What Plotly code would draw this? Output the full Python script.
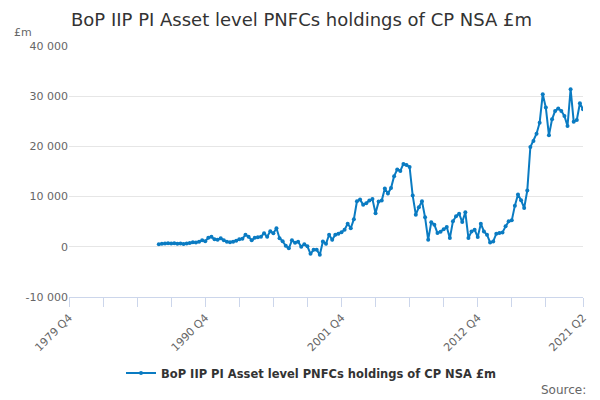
import plotly.graph_objects as go

# Quarterly values, £m, 1987 Q1 to 2021 Q2
valores = [
    530, 600, 650, 700, 650, 700, 600, 650, 550, 650,
    750, 900, 850, 1000, 1300, 1100, 1800, 2000, 1500, 1400,
    1700, 1300, 1000, 900, 1000, 1200, 1500, 1600, 2400, 2000,
    1300, 1800, 1900, 2000, 2700, 2000, 3100, 2700, 3700, 1700,
    1100, 200, -300, 1300, 800, 1000, 0, 500, 100, -1400,
    -600, -600, -1600, 1070, 600, 2400, 1400, 2400, 2600, 2900,
    3400, 4600, 3700, 5500, 9070, 9400, 8400, 8700, 9200, 9500,
    6700, 9000, 9200, 11600, 10600, 11700, 14070, 15400, 15100, 16500,
    16300, 15900, 10200, 6400, 7900, 9070, 5870, 1400, 4870, 4400,
    2740, 3000, 3500, 3930, 1730, 5070, 6100, 6600, 4930, 6870,
    1730, 3070, 3400, 1930, 4600, 3070, 2400, 870, 1070, 2600,
    2730, 2870, 4070, 5070, 5270, 8200, 10400, 9270, 7730, 11200,
    19870, 21070, 22530, 24730, 30400, 27730, 22200, 25400, 27070, 27530,
    27070, 26070, 24070, 31400, 24930, 25270, 28600, 27400,
]

# axis runs from 1979 Q4; the series starts in 1987 Q1
trimestres = ["1979 Q4"] + [f"{a} Q{q}" for a in range(1980, 2022) for q in range(1, 5)]
trimestres = trimestres[:trimestres.index("2021 Q2") + 1]
inicio = trimestres.index("1987 Q1")
serie = [None] * inicio + valores

rotulos = ["1979 Q4", "1990 Q4", "2001 Q4", "2012 Q4", "2021 Q2"]
marcas = trimestres[0:155:11] + ["2021 Q2"]
texto_marcas = [t if t in rotulos else "" for t in marcas]

y_vals = [-10000, 0, 10000, 20000, 30000, 40000]
y_text = ["-10 000", "0", "10 000", "20 000", "30 000", "40 000"]

nome = "BoP IIP PI Asset level PNFCs holdings of CP NSA £m"
azul = "#0a7bc2"

fig = go.Figure()
fig.add_trace(go.Scatter(
    x=trimestres, y=serie, name=nome, mode="lines+markers",
    line=dict(color=azul, width=2),
    marker=dict(color=azul, size=4),
    connectgaps=False,
))

# the page body adds an 8px margin, so the figure is 8px smaller on each side
fig.update_layout(
    width=592, height=392,
    margin=dict(l=61, r=17, t=38, b=103),
    plot_bgcolor="white", paper_bgcolor="white",
    font=dict(family="DejaVu Sans", color="#666666", size=11),
    title=dict(text=nome, x=63 / 592, xanchor="left", y=1 - 12 / 392, yanchor="middle",
               font=dict(size=18, color="#333333")),
    showlegend=True,
    legend=dict(orientation="h", x=0.5 - 15 / 514, xanchor="center", y=-76 / 251, yanchor="middle",
                font=dict(size=11.5, color="#333333", weight="bold")),
    xaxis=dict(
        type="category", categoryorder="array", categoryarray=trimestres,
        range=[0, len(trimestres) - 1], automargin=False,
        tickmode="array", tickvals=marcas, ticktext=texto_marcas,
        tickangle=-45, ticks="outside", ticklen=9, tickcolor="#ccd6eb",
        showline=True, linecolor="#ccd6eb", showgrid=False, zeroline=False,
        tickfont=dict(size=11, color="#666666"),
    ),
    yaxis=dict(
        range=[-10000, 40000], tickmode="array", tickvals=y_vals, ticktext=y_text,
        showgrid=True, gridcolor="#e6e6e6", zeroline=False, showline=False,
        ticks="", automargin=False, tickfont=dict(size=11, color="#666666"),
    ),
    annotations=[
        dict(text="£m", xref="paper", yref="paper", x=-57 / 514, y=1 + 14 / 251,
             xanchor="left", yanchor="middle", showarrow=False,
             font=dict(size=11, color="#666666")),
        dict(text="Source:", xref="paper", yref="paper", x=1 + 5 / 514, y=-93 / 251,
             xanchor="right", yanchor="middle", showarrow=False,
             font=dict(size=12, color="#666666")),
    ],
)

fig.write_html("out.html")
